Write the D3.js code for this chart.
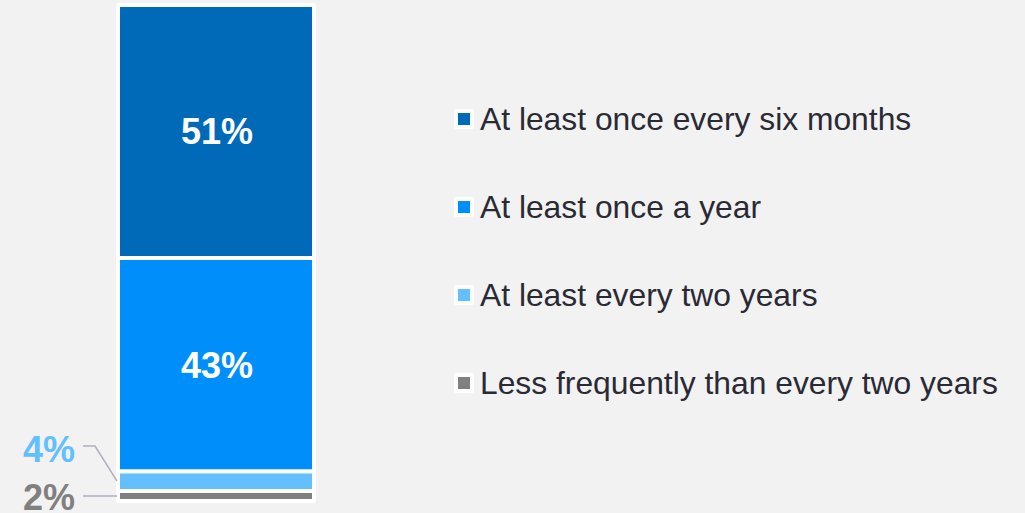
<!DOCTYPE html>
<html>
<head>
<meta charset="utf-8">
<script src="https://cdn.jsdelivr.net/npm/d3@7"></script>
<style>
  html, body { margin: 0; padding: 0; background: #f2f2f2; }
  svg { display: block; font-family: "Liberation Sans", Arial, sans-serif; }
</style>
</head>
<body>
<svg id="chart" width="1025" height="513"></svg>
<script>
// answer categories, bottom of the stack first
var categories = ['Less frequently than every two years', 'At least every two years', 'At least once a year', 'At least once every six months']
var shares = [2, 4, 43, 51]
var colors = ['#808080', '#64bfff', '#008ffa', '#0069b8']

var svg = d3.select('#chart')

var x = d3.scaleBand().domain(['all']).range([118, 314])
var y = d3.scaleLinear().domain([0, 100]).range([501, 5])

var rows = []
var acc = 0
categories.forEach(function (c, i) {
  rows.push({ name: c, value: shares[i], color: colors[i], y0: acc, y1: acc + shares[i] })
  acc += shares[i]
})

// stacked column, white outline keeps the gaps between segments
svg.append('g')
  .selectAll('rect')
  .data(rows)
  .enter()
  .append('rect')
  .attr('x', x('all'))
  .attr('width', x.bandwidth())
  .attr('y', function (d) { return y(d.y1) })
  .attr('height', function (d) { return y(d.y0) - y(d.y1) })
  .attr('fill', function (d) { return d.color })
  .attr('stroke', '#fff')
  .attr('stroke-width', 4)
  .attr('stroke-linejoin', 'round')

// big segments get their value inside
var mid = x('all') + x.bandwidth() / 2
svg.append('g')
  .selectAll('text')
  .data(rows.filter(function (d) { return d.value > 10 }))
  .enter()
  .append('text')
  .attr('x', mid + 1)
  .attr('y', function (d) { return (y(d.y0) + y(d.y1)) / 2 + 13 })
  .attr('text-anchor', 'middle')
  .attr('fill', '#fff')
  .attr('font-weight', 'bold')
  .attr('font-size', 36)
  .text(function (d) { return d.value + '%' })

// small segments are labelled outside with leader lines
var small = rows.filter(function (d) { return d.value <= 10 })
var labelBase = { 2: 510, 4: 462 }
var outer = svg.append('g')
small.forEach(function (d) {
  var cy = (y(d.y0) + y(d.y1)) / 2
  var ly = d.value === 2 ? cy : labelBase[d.value] - 16
  outer.append('path')
    .attr('d', 'M83,' + ly + 'L95,' + ly + 'L117,' + cy)
    .attr('fill', 'none')
    .attr('stroke', '#b0aec0')
    .attr('stroke-width', 1.5)
  outer.append('text')
    .attr('x', 75)
    .attr('y', labelBase[d.value])
    .attr('text-anchor', 'end')
    .attr('fill', d.color)
    .attr('font-weight', 'bold')
    .attr('font-size', 36)
    .text(d.value + '%')
})

// legend, top category first
var legendRows = rows.slice().reverse()
var legend = svg.append('g')
  .selectAll('g')
  .data(legendRows)
  .enter()
  .append('g')
  .attr('transform', function (d, i) { return 'translate(456,' + (130 + i * 88) + ')' })

legend.append('rect')
  .attr('x', 0)
  .attr('y', -19)
  .attr('width', 16)
  .attr('height', 16)
  .attr('fill', function (d) { return d.color })
  .attr('stroke', '#fff')
  .attr('stroke-width', 4)
  .attr('stroke-linejoin', 'round')

legend.append('text')
  .attr('x', 24)
  .attr('y', 0)
  .attr('fill', '#2a2a35')
  .attr('font-size', 31.8)
  .text(function (d) { return d.name })
</script>
</body>
</html>
